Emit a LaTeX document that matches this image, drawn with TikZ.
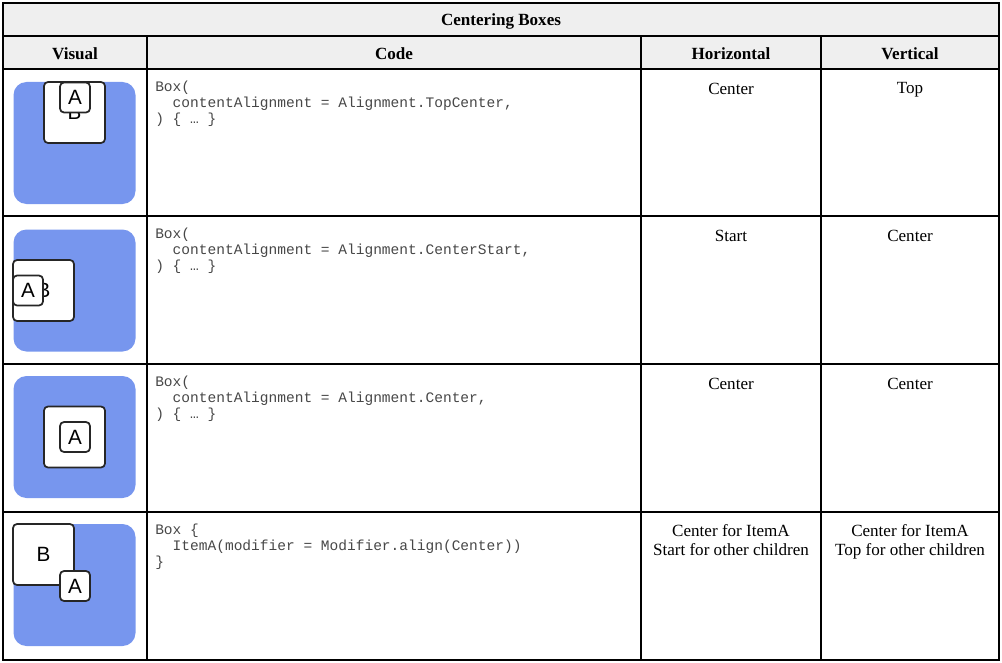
\documentclass[tikz,border=0pt]{standalone}
\usepackage{fontspec}
\setmainfont{Liberation Serif}
\setsansfont{Liberation Sans}
\setmonofont{Liberation Mono}
\usepackage{tikz}
\usetikzlibrary{positioning}
\definecolor{panelblue}{RGB}{119,150,238}
\definecolor{headgray}{RGB}{239,239,239}

\begin{document}
\begin{tikzpicture}[x=0.75pt,y=-0.75pt]
 	\def \rowone{69}
 	\def \rowtwo{216}
 	\def \rowthree{364}
 	\def \rowfour{512}
 	\tikzstyle{head}=[font=\fontsize{12.8}{14.2}\selectfont\bfseries,inner sep=0pt]
 	\tikzstyle{cell}=[font=\fontsize{12.8}{14.2}\selectfont,align=center,anchor=north,inner sep=0pt]
 	\tikzstyle{code}=[font=\fontsize{10.9}{12}\selectfont\ttfamily,text=black!72,align=left,anchor=north west,inner sep=0pt]
 	\tikzstyle{panel}=[fill=panelblue,rounded corners=9.75pt,minimum size=91.5pt,inner sep=0pt]
 	\tikzstyle{b-box}=[draw=black!85,line width=1.3pt,fill=white,rounded corners=3pt,minimum size=45.75pt,inner sep=0pt,font=\sffamily\fontsize{15.5}{15.5}\selectfont]
 	\tikzstyle{a-box}=[draw=black!85,line width=1.3pt,fill=white,rounded corners=3pt,minimum size=22.5pt,inner sep=0pt,font=\sffamily\fontsize{15.5}{15.5}\selectfont]
 	\useasboundingbox (0,0) rectangle (1002,663);
 	% header background
 	\fill[headgray] (3,3) rectangle (999,69);
 	% table rules
 	\draw[line width=0.8pt] (3,3) rectangle (999,660);
 	\foreach \y in {36,\rowone,\rowtwo,\rowthree,\rowfour}
 		\draw[line width=0.8pt] (3,\y) -- (999,\y);
 	\foreach \x in {147,641,821}
 		\draw[line width=0.8pt] (\x,36) -- (\x,660);
 	% headings
 	\node[head] (title) at (501,21) {Centering Boxes};
 	\node[head] (visual-head) at (75,53.5) {Visual};
 	\node[head] (code-head) at (394,53.5) {Code};
 	\node[head] (horiz-head) at (731,53.5) {Horizontal};
 	\node[head] (vert-head) at (910,53.5) {Vertical};
 	% row one: TopCenter
 	\node[panel] (p1) at (74.5,143) {};
 	\node[b-box] (b1) at (74.5,112.5) {B};
 	\node[a-box] (a1) at (75,97.5) {A};
 	\node[code] (c1) at (155,\rowone+12) {Box(\\\hphantom{xx}contentAlignment = Alignment.TopCenter,\\) \{ … \}};
 	\node[cell] (h1) at (731,\rowone+13.5) {Center};
 	\node[cell] (v1) at (910,\rowone+13.5) {Top};
 	% row two: CenterStart
 	\node[panel] (p2) at (74.5,290.5) {};
 	\node[b-box] (b2) at (43.5,290.5) {B};
 	\node[a-box] (a2) at (28,290.5) {A};
 	\node[code] (c2) at (155,\rowtwo+12) {Box(\\\hphantom{xx}contentAlignment = Alignment.CenterStart,\\) \{ … \}};
 	\node[cell] (h2) at (731,\rowtwo+13.5) {Start};
 	\node[cell] (v2) at (910,\rowtwo+13.5) {Center};
 	% row three: Center
 	\node[panel] (p3) at (74.5,437) {};
 	\node[b-box] (b3) at (74.5,437) {B};
 	\node[a-box] (a3) at (75,437) {A};
 	\node[code] (c3) at (155,\rowthree+12) {Box(\\\hphantom{xx}contentAlignment = Alignment.Center,\\) \{ … \}};
 	\node[cell] (h3) at (731,\rowthree+13.5) {Center};
 	\node[cell] (v3) at (910,\rowthree+13.5) {Center};
 	% row four: align modifier
 	\node[panel] (p4) at (74.5,585) {};
 	\node[b-box] (b4) at (43.5,554.5) {B};
 	\node[a-box] (a4) at (75,586) {A};
 	\node[code] (c4) at (155,\rowfour+12) {Box \{\\\hphantom{xx}ItemA(modifier = Modifier.align(Center))\\\}};
 	\node[cell] (h4) at (731,\rowfour+12) {Center for ItemA\\Start for other children};
 	\node[cell] (v4) at (910,\rowfour+12) {Center for ItemA\\Top for other children};
\end{tikzpicture}
\end{document}
